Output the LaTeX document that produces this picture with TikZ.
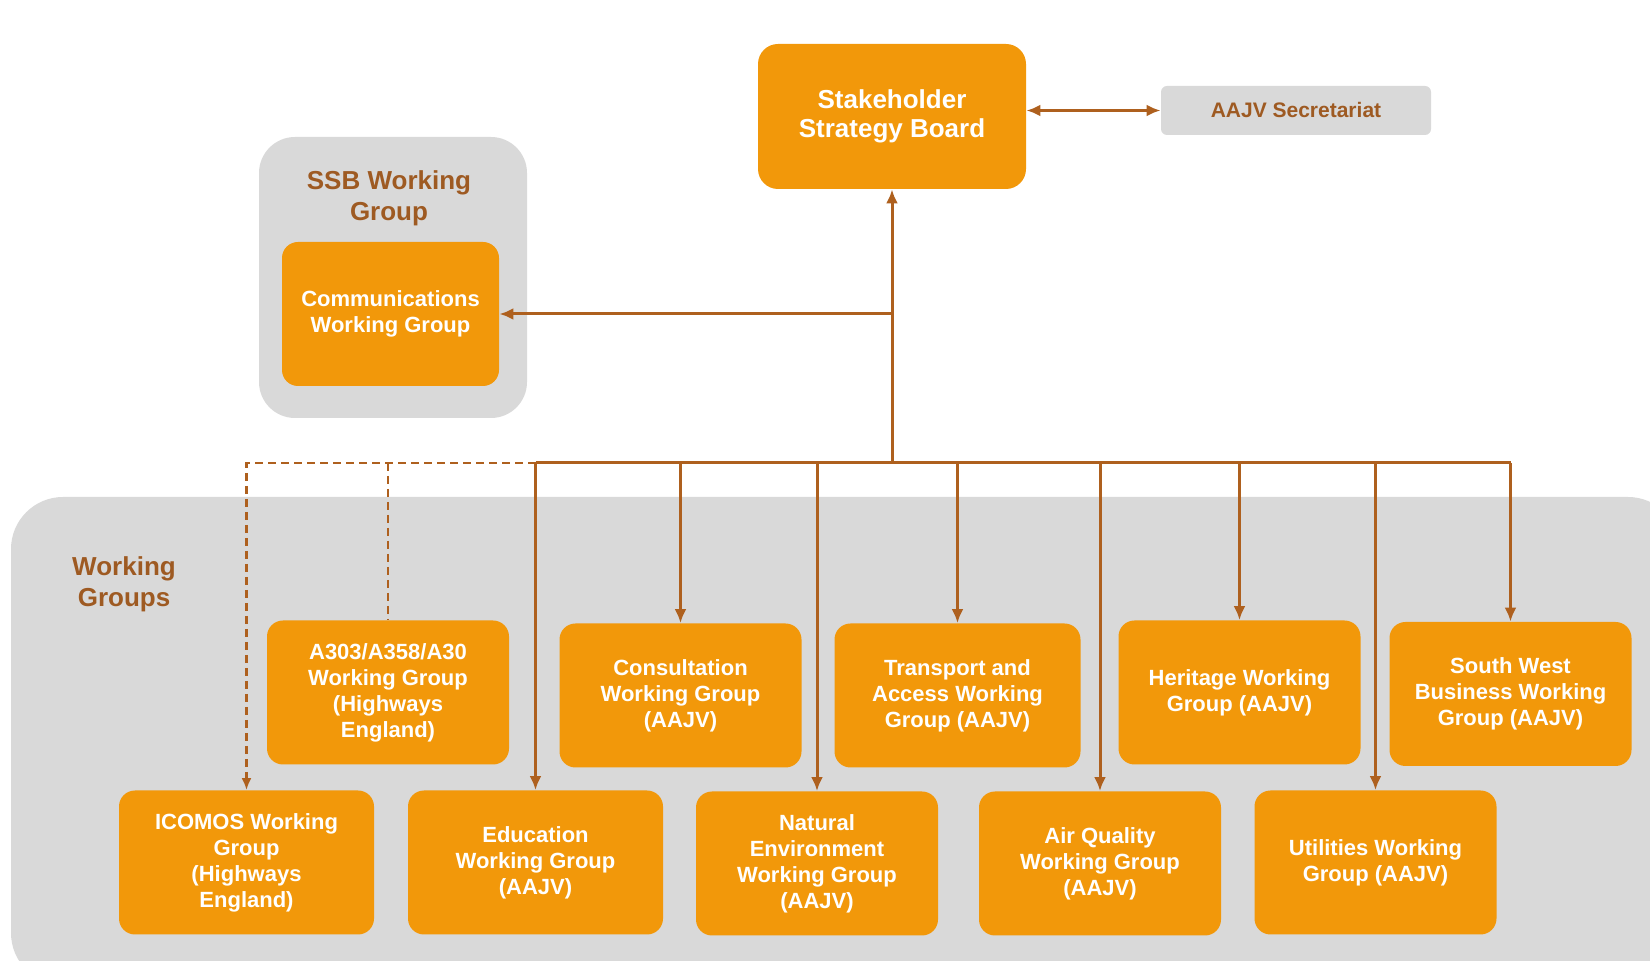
\documentclass[tikz,border=0pt]{standalone}
\usepackage{fontspec}
\setmainfont{Liberation Sans}
\usetikzlibrary{arrows.meta}

\definecolor{wgorange}{RGB}{242,152,10}
\definecolor{wgbrown}{RGB}{174,96,30}
\definecolor{wgtext}{RGB}{158,90,34}
\definecolor{wggrey}{RGB}{217,217,217}

\tikzset{
  wgbox/.style={fill=wgorange, rounded corners=8pt, text=white, align=center,
    inner sep=0pt, font=\bfseries\fontsize{11}{13}\selectfont,
    minimum width=121pt, minimum height=72pt},
  wglabel/.style={text=wgtext, align=center, font=\bfseries\fontsize{13}{15.5}\selectfont},
  link/.style={draw=wgbrown, line width=1.5pt, -{Latex[length=7pt,width=6pt]}},
  bus/.style={draw=wgbrown, line width=1.5pt},
  dashlink/.style={draw=wgbrown, line width=1.3pt, dash pattern=on 4pt off 2.5pt}
}

\begin{document}
\begin{tikzpicture}[x=0.5pt, y=-0.5pt]

\useasboundingbox (0,0) rectangle (1650,961);

% panels
\begin{scope}
\clip (0,0) rectangle (1650,961);
\fill[wggrey, rounded corners=26pt] (11,497) rectangle (1680,985);
\end{scope}
\fill[wggrey, rounded corners=18pt] (259,137) rectangle (527,418);

\node [wglabel] (ssblabel) at (389,198) {SSB Working\\Group};
\node [wglabel] (wglabel) at (124,584) {Working\\Groups};

% top
\node [wgbox, rounded corners=10pt, minimum width=134pt, minimum height=72.5pt,
  font=\bfseries\fontsize{13}{14.5}\selectfont] (ssb) at (892,116.5) {Stakeholder\\Strategy Board};
\node [fill=wggrey, rounded corners=3pt, text=wgtext, font=\bfseries\fontsize{10.5}{12}\selectfont,
  minimum width=135pt, minimum height=24.5pt, inner sep=0pt] (sec) at (1296,110.5) {AAJV Secretariat};
\node [wgbox, minimum width=108.5pt] (comms) at (390.5,314) {Communications\\Working Group};

% row 1
\node [wgbox] (a303) at (388,692.5) {A303/A358/A30\\Working Group\\(Highways\\England)};
\node [wgbox] (cons) at (680.5,695.5) {Consultation\\Working Group\\(AAJV)};
\node [wgbox, minimum width=123pt] (trans) at (957.5,695.5) {Transport and\\Access Working\\Group (AAJV)};
\node [wgbox] (herit) at (1239.5,692.5) {Heritage Working\\Group (AAJV)};
\node [wgbox] (swb) at (1510.5,694) {South West\\Business Working\\Group (AAJV)};

% row 2
\node [wgbox, minimum width=127.5pt] (icomos) at (246.5,862.5) {ICOMOS Working\\Group\\(Highways\\England)};
\node [wgbox, minimum width=127.5pt] (edu) at (535.5,862.5) {Education\\Working Group\\(AAJV)};
\node [wgbox] (nat) at (817,863.5) {Natural\\Environment\\Working Group\\(AAJV)};
\node [wgbox] (air) at (1100,863.5) {Air Quality\\Working Group\\(AAJV)};
\node [wgbox] (util) at (1375.5,862.5) {Utilities Working\\Group (AAJV)};

% connectors
\coordinate (hub) at (892,463);
\coordinate (split) at (hub |- comms.east);

\draw[link, {Latex[length=7pt,width=6pt]}-{Latex[length=7pt,width=6pt]}] (ssb.east |- sec.west) -- (sec.west);
\draw[link] (hub) -- (ssb.south);
\draw[link] (split) -- (comms.east);
\draw[bus] (hub -| edu.north) -- (hub -| swb.north);

\draw[link] (hub -| cons.north) -- (cons.north);
\draw[link] (hub -| trans.north) -- (trans.north);
\draw[link] (hub -| herit.north) -- (herit.north);
\draw[link] (hub -| swb.north) -- (swb.north);
\draw[link] (hub -| edu.north) -- (edu.north);
\draw[link] (hub -| nat.north) -- (nat.north);
\draw[link] (hub -| air.north) -- (air.north);
\draw[link] (hub -| util.north) -- (util.north);

% Highways England
\draw[dashlink, -{Latex[length=6pt,width=5pt]}] (hub -| edu.north) -- (hub -| icomos.north) -- (icomos.north);
\draw[dashlink] (hub -| a303.north) -- (a303.north);

\end{tikzpicture}
\end{document}
